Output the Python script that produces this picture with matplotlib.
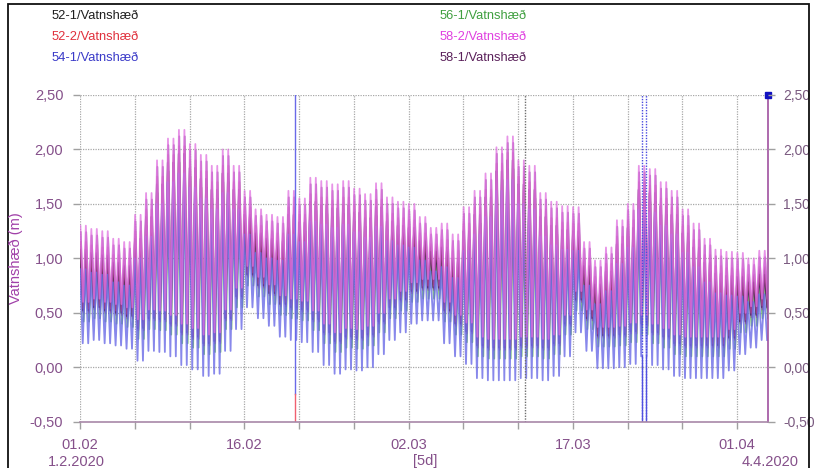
import numpy as np
import matplotlib
matplotlib.use("Agg")
import matplotlib.pyplot as plt
from matplotlib.patches import Rectangle

plt.rcParams['font.family'] = ['Liberation Sans', 'DejaVu Sans']

# ---------------- data (daily high / low water, m) ----------------
day_index = list(range(63))  # days since 1.2.2020

hi_52_1 = [1.08,1.05,1.03,0.96,0.93,1.18,1.38,1.68,1.88,1.96,1.83,1.73,1.63,1.78,1.63,1.40,1.23,1.18,1.16,1.40,
           1.33,1.52,1.49,1.46,1.49,1.42,1.37,1.47,1.34,1.30,1.28,1.16,1.06,1.10,1.00,1.25,1.40,1.56,1.80,1.90,
           1.68,1.63,1.38,1.30,1.26,1.25,0.93,0.76,0.88,1.13,1.28,1.63,1.60,1.48,1.40,1.23,1.10,0.96,0.86,0.84,
           0.83,0.78,0.85]
lo_52_1 = [0.52,0.55,0.52,0.50,0.47,0.36,0.45,0.44,0.40,0.32,0.28,0.22,0.24,0.45,0.65,0.85,0.75,0.68,0.58,0.55,
           0.53,0.44,0.32,0.24,0.28,0.27,0.30,0.42,0.55,0.62,0.70,0.73,0.73,0.52,0.40,0.33,0.20,0.18,0.18,0.18,
           0.20,0.20,0.18,0.22,0.40,0.62,0.45,0.29,0.29,0.30,0.33,0.40,0.32,0.28,0.22,0.20,0.20,0.20,0.20,0.27,
           0.42,0.48,0.55]

hi_52_2 = [1.15,1.12,1.10,1.03,1.00,1.25,1.45,1.75,1.95,2.03,1.90,1.80,1.70,1.85,1.70,1.47,1.30,1.25,1.23,1.47,
           1.40,1.59,1.56,1.53,1.56,1.49,1.44,1.54,1.41,1.37,1.35,1.23,1.13,1.17,1.07,1.32,1.47,1.63,1.87,1.97,
           1.75,1.70,1.45,1.37,1.33,1.32,1.00,0.83,0.95,1.20,1.35,1.70,1.67,1.55,1.47,1.30,1.17,1.03,0.93,0.91,
           0.90,0.85,0.92]
lo_52_2 = [0.54,0.57,0.54,0.52,0.49,0.38,0.47,0.46,0.42,0.34,0.30,0.24,0.26,0.47,0.67,0.87,0.77,0.70,0.60,0.57,
           0.55,0.46,0.34,0.26,0.30,0.29,0.32,0.44,0.57,0.64,0.72,0.75,0.75,0.54,0.42,0.35,0.22,0.20,0.20,0.20,
           0.22,0.22,0.20,0.24,0.42,0.64,0.47,0.31,0.31,0.32,0.35,0.42,0.34,0.30,0.24,0.22,0.22,0.22,0.22,0.29,
           0.44,0.50,0.57]

hi_54_1 = [0.90,0.87,0.85,0.78,0.75,1.00,1.20,1.50,1.70,1.78,1.65,1.55,1.45,1.60,1.45,1.22,1.05,1.00,0.98,1.22,
           1.15,1.34,1.31,1.28,1.31,1.24,1.19,1.29,1.16,1.12,1.10,0.98,0.88,0.92,0.82,1.07,1.22,1.38,1.62,1.72,
           1.50,1.45,1.20,1.12,1.08,1.07,0.75,0.58,0.70,0.95,1.10,1.45,1.42,1.30,1.22,1.05,0.92,0.78,0.68,0.66,
           0.65,0.60,0.67]
lo_54_1 = [0.22,0.25,0.22,0.20,0.17,0.06,0.15,0.14,0.10,0.02,-0.02,-0.08,-0.06,0.15,0.35,0.55,0.45,0.38,0.28,0.25,
           0.23,0.14,0.02,-0.06,-0.02,-0.03,0.00,0.12,0.25,0.32,0.40,0.43,0.43,0.22,0.10,0.03,-0.10,-0.12,-0.12,-0.12,
           -0.10,-0.10,-0.12,-0.08,0.10,0.32,0.15,-0.01,-0.01,0.00,0.03,0.10,0.02,-0.02,-0.08,-0.10,-0.10,-0.10,-0.10,-0.03,
           0.12,0.18,0.25]

hi_56_1 = [1.00,0.97,0.95,0.88,0.85,1.10,1.30,1.60,1.80,1.88,1.75,1.65,1.55,1.70,1.55,1.32,1.15,1.10,1.08,1.32,
           1.25,1.44,1.41,1.38,1.41,1.34,1.29,1.39,1.26,1.22,1.20,1.08,0.98,1.02,0.92,1.17,1.32,1.48,1.72,1.82,
           1.60,1.55,1.30,1.22,1.18,1.17,0.85,0.68,0.80,1.05,1.20,1.55,1.52,1.40,1.32,1.15,1.02,0.88,0.78,0.76,
           0.75,0.70,0.77]
lo_56_1 = [0.42,0.45,0.42,0.40,0.37,0.26,0.35,0.34,0.30,0.22,0.18,0.12,0.14,0.35,0.55,0.75,0.65,0.58,0.48,0.45,
           0.43,0.34,0.22,0.14,0.18,0.17,0.20,0.32,0.45,0.52,0.60,0.63,0.63,0.42,0.30,0.23,0.10,0.08,0.08,0.08,
           0.10,0.10,0.08,0.12,0.30,0.52,0.35,0.19,0.19,0.20,0.23,0.30,0.22,0.18,0.12,0.10,0.10,0.10,0.10,0.17,
           0.32,0.38,0.45]

hi_58_2 = [1.30,1.27,1.25,1.18,1.15,1.40,1.60,1.90,2.10,2.18,2.05,1.95,1.85,2.00,1.85,1.62,1.45,1.40,1.38,1.62,
           1.55,1.74,1.71,1.68,1.71,1.64,1.59,1.69,1.56,1.52,1.50,1.38,1.28,1.32,1.22,1.47,1.62,1.78,2.02,2.12,
           1.90,1.85,1.60,1.52,1.48,1.47,1.15,0.98,1.10,1.35,1.50,1.85,1.82,1.70,1.62,1.45,1.32,1.18,1.08,1.06,
           1.05,1.00,1.07]
lo_58_2 = [0.60,0.63,0.60,0.58,0.55,0.44,0.53,0.52,0.48,0.40,0.36,0.30,0.32,0.53,0.73,0.93,0.83,0.76,0.66,0.63,
           0.61,0.52,0.40,0.32,0.36,0.35,0.38,0.50,0.63,0.70,0.78,0.81,0.81,0.60,0.48,0.41,0.28,0.26,0.26,0.26,
           0.28,0.28,0.26,0.30,0.48,0.70,0.53,0.37,0.37,0.38,0.41,0.48,0.40,0.36,0.30,0.28,0.28,0.28,0.28,0.35,
           0.50,0.56,0.63]

hi_58_1 = [1.24,1.21,1.19,1.12,1.09,1.34,1.54,1.84,2.04,2.12,1.99,1.89,1.79,1.94,1.79,1.56,1.39,1.34,1.32,1.56,
           1.49,1.68,1.65,1.62,1.65,1.58,1.53,1.63,1.50,1.46,1.44,1.32,1.22,1.26,1.16,1.41,1.56,1.72,1.96,2.06,
           1.84,1.79,1.54,1.46,1.42,1.41,1.09,0.92,1.04,1.29,1.44,1.79,1.76,1.64,1.56,1.39,1.26,1.12,1.02,1.00,
           0.99,0.94,1.01]
lo_58_1 = [0.50,0.53,0.50,0.48,0.45,0.34,0.43,0.42,0.38,0.30,0.26,0.20,0.22,0.43,0.63,0.83,0.73,0.66,0.56,0.53,
           0.51,0.42,0.30,0.22,0.26,0.25,0.28,0.40,0.53,0.60,0.68,0.71,0.71,0.50,0.38,0.31,0.18,0.16,0.16,0.16,
           0.18,0.18,0.16,0.20,0.38,0.60,0.43,0.27,0.27,0.28,0.31,0.38,0.30,0.26,0.20,0.18,0.18,0.18,0.18,0.25,
           0.40,0.46,0.53]

series_labels = ["52-1/Vatnshæð", "52-2/Vatnshæð", "54-1/Vatnshæð",
                 "56-1/Vatnshæð", "58-2/Vatnshæð", "58-1/Vatnshæð"]
series_colors = ["#2a1a4a", "#e05080", "#6a6ae6", "#60b060", "#e070e0", "#9040a0"]

y_ticks = [-0.5, 0.0, 0.5, 1.0, 1.5, 2.0, 2.5]
x_major = [0, 15, 30, 45, 60]
x_major_labels = ["01.02", "16.02", "02.03", "17.03", "01.04"]
x_grid = [0, 5, 10, 15, 20, 25, 30, 35, 40, 45, 50, 55, 60]

# ---------------- figure ----------------
W, H = 815, 468
fig = plt.figure(figsize=(W / 100, H / 100), dpi=100)
ax_l, ax_r, ax_t, ax_b = 80, 768, 95, 421.7
ax = fig.add_axes([ax_l / W, 1 - ax_b / H, (ax_r - ax_l) / W, (ax_b - ax_t) / H])
xmax = (ax_r - ax_l) / 10.95

his = [hi_52_1, hi_52_2, hi_54_1, hi_56_1, hi_58_2, hi_58_1]
los = [lo_52_1, lo_52_2, lo_54_1, lo_56_1, lo_58_2, lo_58_1]
phase = [0.02, 0.05, 0.0, 0.08, 0.035, 0.065]
order = [3, 0, 1, 5, 2, 4]      # drawing order (first = bottom)
alphas = [0.9, 0.7, 0.8, 0.8, 0.75, 0.7]
step = np.array([0.0, 0.25, 0.5, 0.75])
d = np.array(day_index, dtype=float)
for k in order:
    t = (d[:, None] + step[None, :] + phase[k]).ravel()
    hi = np.array(his[k]); lo = np.array(los[k])
    v = np.column_stack([hi, lo, hi, lo]).ravel()
    ax.plot(t, v, color=series_colors[k], lw=1.3, alpha=alphas[k], zorder=3 + order.index(k))

# artefact vertical lines seen in the reference
ax.plot([19.6, 19.6], [-0.25, 2.5], color="#6a6ae8", lw=1.0, zorder=10)
ax.plot([19.6, 19.6], [-0.5, -0.25], color="#f06070", lw=1.0, zorder=10)
ax.plot([40.6, 40.6], [-0.5, 2.5], color="#707070", lw=1.0, ls=(0, (1, 1)), zorder=10)
ax.plot([51.35, 51.35], [-0.5, 2.5], color="#4a4ae0", lw=1.0, ls=(0, (1, 1)), zorder=10)
ax.plot([51.65, 51.65], [-0.5, 2.5], color="#4a4ae0", lw=1.0, ls=(0, (1, 1)), zorder=10)
ax.plot([51.35, 51.35], [-0.5, 0.1], color="#5050e0", lw=1.0, zorder=10)
ax.plot([51.65, 51.65], [-0.5, 0.1], color="#5050e0", lw=1.0, zorder=10)
ax.plot([xmax - 0.02, xmax - 0.02], [-0.5, 2.5], color="#a050a0", lw=1.2, zorder=10, clip_on=False)
ax.plot([xmax - 0.02], [2.5], marker="s", ms=4, color="#1010c0", zorder=11, clip_on=False)

ax.set_xlim(0, xmax)
ax.set_ylim(-0.5, 2.5)

# grid
for x in x_grid:
    ax.axvline(x, color="#a8a8a8", lw=0.9, ls=(0, (1, 1)), zorder=1)
for y in y_ticks[1:]:
    ax.axhline(y, color="#a8a8a8", lw=0.9, ls=(0, (1, 1)), zorder=1)

for s in ["top", "right", "left"]:
    ax.spines[s].set_visible(False)
ax.spines["bottom"].set_color("#a888a8")
ax.spines["bottom"].set_linewidth(1.2)
ax.spines["bottom"].set_zorder(12)

tick_col = "#85508a"
ax.set_xticks(x_grid, minor=True)
ax.set_xticks(x_major)
ax.set_xticklabels(x_major_labels)
ax.tick_params(axis="x", which="both", length=5, width=1, color="#a0a0a0", direction="out",
               pad=7, labelsize=10.5, labelcolor=tick_col)
ax.set_yticks(y_ticks)
ax.set_yticklabels([f"{v:.2f}".replace(".", ",") for v in y_ticks])
ax.tick_params(axis="y", length=5, width=1, color="#a0a0a0", pad=7, labelsize=10.5, labelcolor=tick_col)

ax2 = ax.twinx()
ax2.set_ylim(-0.5, 2.5)
ax2.set_yticks(y_ticks)
ax2.set_yticklabels([f"{v:.2f}".replace(".", ",") for v in y_ticks])
ax2.tick_params(axis="y", length=5, width=1, color="#a0a0a0", pad=6, labelsize=10, labelcolor="#7a5a80")
for s in ["top", "right", "left", "bottom"]:
    ax2.spines[s].set_visible(False)

fig.text(16 / W, 1 - 258 / H, "Vatnshæð (m)", rotation=90, ha="center", va="center",
         color="#a040a8", fontsize=10.5)

# bottom texts
fig.text(76 / W, 1 - 461.5 / H, "1.2.2020", ha="center", va="center", color=tick_col, fontsize=10.5)
fig.text(425 / W, 1 - 461.5 / H, "[5d]", ha="center", va="center", color=tick_col, fontsize=10.5)
fig.text(770 / W, 1 - 461.5 / H, "4.4.2020", ha="center", va="center", color=tick_col, fontsize=10.5)

# legend (coloured text)
leg_pos = [(52, 16), (52, 37), (52, 58), (440, 16), (440, 37), (440, 58)]
leg_cols = ["#1e1e1e", "#e0303c", "#3a3ac8", "#3f9f3f", "#e040e0", "#5a205a"]
for (px, py), lab, c in zip(leg_pos, series_labels, leg_cols):
    fig.text(px / W, 1 - py / H, lab, ha="left", va="center", color=c, fontsize=9.3)

# outer frame
fig.add_artist(Rectangle((8 / W, -0.05), (809 - 8) / W, 1.05 - 4 / H, transform=fig.transFigure,
                         fill=False, edgecolor="#101010", lw=1.3))

fig.savefig("out.png", dpi=100)
